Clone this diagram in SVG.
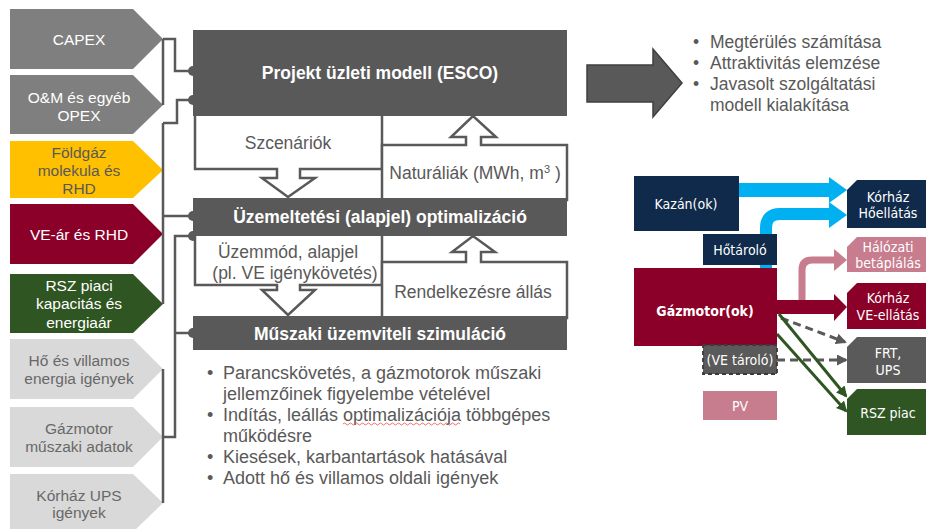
<svg xmlns="http://www.w3.org/2000/svg" width="926" height="529" viewBox="0 0 926 529">
<defs>
<style>
.chev-t{font-family:"Liberation Sans",Arial,sans-serif;font-size:15.5px;text-anchor:middle}
.w{fill:#ffffff}
.g{fill:#595959}
.lg{fill:#686868}
.conn{fill:none;stroke:#595959;stroke-width:2.5}
.dot{fill:#595959}
.box{fill:#595959}
.title{font-family:"Liberation Sans",Arial,sans-serif;font-size:17.5px;font-weight:bold;fill:#ffffff;text-anchor:middle}
.call{fill:#ffffff;stroke:#595959;stroke-width:2.5;stroke-linejoin:miter}
.ct{font-family:"Liberation Sans",Arial,sans-serif;font-size:17.5px;fill:#595959;text-anchor:middle}
.bt{font-family:"Liberation Sans",Arial,sans-serif;font-size:18px;fill:#595959}
.rt{font-family:"Liberation Sans",Arial,sans-serif;font-size:17.5px;fill:#595959}
.rd{font-family:"DejaVu Sans Condensed","DejaVu Sans",sans-serif;font-size:14px;fill:#ffffff;text-anchor:middle}
</style>
<marker id="ahGray" markerWidth="11" markerHeight="11" refX="9" refY="5.5" orient="auto" markerUnits="userSpaceOnUse"><path d="M0,0 L11,5.5 L0,11 Z" fill="#595959"/></marker>
<marker id="ahGreen" markerWidth="11" markerHeight="11" refX="9" refY="5.5" orient="auto" markerUnits="userSpaceOnUse"><path d="M0,0 L11,5.5 L0,11 Z" fill="#2F5522"/></marker>
</defs>
<rect width="926" height="529" fill="#ffffff"/>

<!-- Left input chevrons -->
<g id="capex"><path d="M10,9 H133 L163,39 L133,69 H10 Z" fill="#7F7F7F"/><text class="chev-t w" x="79" y="44.5">CAPEX</text></g>
<g id="om-opex"><path d="M10,75 H133 L163,105 L133,134 H10 Z" fill="#7F7F7F"/><text class="chev-t w" x="79" y="102.5">O&amp;M és egyéb</text><text class="chev-t w" x="79" y="120.5">OPEX</text></g>
<g id="foldgaz"><path d="M10,141 H133 L163,170 L133,198 H10 Z" fill="#FFC000"/><text class="chev-t g" x="79" y="157.5">Földgáz</text><text class="chev-t g" x="79" y="175.5">molekula és</text><text class="chev-t g" x="79" y="193.5">RHD</text></g>
<g id="ve-ar"><path d="M10,204 H133 L163,234 L133,264 H10 Z" fill="#8B0028"/><text class="chev-t w" x="79" y="240">VE-ár és RHD</text></g>
<g id="rsz-piaci"><path d="M10,274 H133 L163,304 L133,333 H10 Z" fill="#2F5522"/><text class="chev-t w" x="79" y="290.5">RSZ piaci</text><text class="chev-t w" x="79" y="309">kapacitás és</text><text class="chev-t w" x="79" y="327.5">energiaár</text></g>
<g id="ho-villamos"><path d="M10,339 H133 L163,369 L133,399 H10 Z" fill="#D9D9D9"/><text class="chev-t lg" x="79" y="365.5">Hő és villamos</text><text class="chev-t lg" x="79" y="383.5">energia igények</text></g>
<g id="gazmotor-adatok"><path d="M10,407 H133 L163,437 L133,467 H10 Z" fill="#D9D9D9"/><text class="chev-t lg" x="79" y="433.5">Gázmotor</text><text class="chev-t lg" x="79" y="451.5">műszaki adatok</text></g>
<g id="korhaz-ups"><path d="M10,474 H133 L163,503 L133,532 H10 Z" fill="#D9D9D9"/><text class="chev-t lg" x="79" y="500.5">Kórház UPS</text><text class="chev-t lg" x="79" y="518">igények</text></g>

<!-- Left connectors -->
<g id="connectors-left">
<path class="conn" d="M163,39 V105 M163,39 H175 V71 H192"/>
<path class="conn" d="M163,123 V304 M163,123 H177 V100 H192 M163,216 H192"/>
<path class="conn" d="M163,369 V503 M163,437 H175 V236 H192 M175,333 H192"/>
<circle class="dot" cx="193" cy="71" r="5"/>
<circle class="dot" cx="193" cy="100" r="5"/>
<circle class="dot" cx="193" cy="216" r="5"/>
<circle class="dot" cx="193" cy="236" r="5"/>
<circle class="dot" cx="193" cy="333" r="5"/>
</g>

<!-- Callout block arrows -->
<g id="connectors-callouts">
<g id="szcenariok"><polygon class="call" points="195,114 195,169 277,169 277,178 262,178 288,197 315,178 300,178 300,169 382,169 382,114"/><text class="ct" x="288" y="149">Szcenáriók</text></g>
<g id="naturaliak"><polygon class="call" points="382,200 382,145 466,145 466,137 451,137 473,116 496,137 481,137 481,145 567,145 567,200"/><text class="ct" x="475" y="179">Naturáliák (MWh, m<tspan font-size="11" dy="-6">3</tspan><tspan dy="6"> )</tspan></text></g>
<g id="uzemmod"><polygon class="call" points="195,234 195,285 277,285 277,290 262,290 288,315 315,290 300,290 300,285 382,285 382,234"/><text class="ct" x="288" y="258">Üzemmód, alapjel</text><text class="ct" x="295" y="279">(pl. VE igénykövetés)</text></g>
<g id="rendelkezes"><polygon class="call" points="382,318 382,262 466,262 466,252 452,252 473,236 495,252 481,252 481,262 567,262 567,318"/><text class="ct" x="473" y="298">Rendelkezésre állás</text></g>
</g>

<!-- Central process boxes -->
<g id="projekt"><rect class="box" x="193" y="30" width="374" height="86"/><text class="title" x="380" y="79">Projekt üzleti modell (ESCO)</text></g>
<g id="uzemeltetesi"><rect class="box" x="193" y="198" width="374" height="38"/><text class="title" x="380" y="223">Üzemeltetési (alapjel) optimalizáció</text></g>
<g id="muszaki"><rect class="box" x="193" y="316" width="374" height="34"/><text class="title" x="380" y="340">Műszaki üzemviteli szimuláció</text></g>

<!-- Bullets under simulation -->
<g id="sim-bullets">
<text class="bt" x="207" y="379">•</text><text class="bt" x="223" y="379">Parancskövetés, a gázmotorok műszaki</text>
<text class="bt" x="223" y="400">jellemzőinek figyelembe vételével</text>
<text class="bt" x="207" y="421">•</text><text class="bt" x="223" y="421">Indítás, leállás optimalizációja többgépes</text>
<path d="M343,424 q1.5,-2 3,0 t3,0 t3,0 t3,0 t3,0 t3,0 t3,0 t3,0 t3,0 t3,0 t3,0 t3,0 t3,0 t3,0 t3,0 t3,0 t3,0 t3,0 t3,0 t3,0 t3,0 t3,0 t3,0 t3,0 t3,0 t3,0 t3,0 t3,0 t3,0 t3,0 t3,0 t3,0 t3,0 t3,0 t3,0 t3,0 t3,0 t3,0 t3,0" fill="none" stroke="#E0504A" stroke-width="0.8"/>
<text class="bt" x="223" y="442">működésre</text>
<text class="bt" x="207" y="463">•</text><text class="bt" x="223" y="463">Kiesések, karbantartások hatásával</text>
<text class="bt" x="207" y="484">•</text><text class="bt" x="223" y="484">Adott hő és villamos oldali igények</text>
</g>

<!-- Big arrow and outcomes -->
<g id="result-arrow"><polygon points="587,65 653,65 653,49 682,83 653,117 653,102 587,102" fill="#595959" stroke="#3F3F3F" stroke-width="1.5"/></g>
<g id="outcomes">
<text class="rt" x="693" y="48">•</text><text class="rt" x="710" y="48">Megtérülés számítása</text>
<text class="rt" x="693" y="69">•</text><text class="rt" x="710" y="69">Attraktivitás elemzése</text>
<text class="rt" x="693" y="90">•</text><text class="rt" x="710" y="90">Javasolt szolgáltatási</text>
<text class="rt" x="710" y="111">modell kialakítása</text>
</g>

<!-- Right energy flow diagram connectors -->
<g id="connectors-energy">
<rect x="739" y="183" width="91" height="14" fill="#00B0F0"/>
<polygon points="829,177 847,190 829,203" fill="#00B0F0"/>
<path d="M766,268 V228 Q766,214 780,214 H832" fill="none" stroke="#00B0F0" stroke-width="12"/>
<polygon points="829,202 847,215 829,228" fill="#00B0F0"/>
<path d="M802,301 V270 Q802,260 812,260 H836" fill="none" stroke="#C77D8E" stroke-width="7"/>
<polygon points="834,249 847,260 834,271" fill="#C77D8E"/>
<rect x="777" y="300" width="58" height="14" fill="#8B0028"/>
<polygon points="834,294 847,307 834,321" fill="#8B0028"/>
<line x1="781" y1="318" x2="845" y2="342" stroke="#595959" stroke-width="3" stroke-dasharray="8,5" marker-end="url(#ahGray)"/>
<line x1="777" y1="360" x2="846" y2="360" stroke="#595959" stroke-width="3" stroke-dasharray="8,5" marker-end="url(#ahGray)"/>
<line x1="779" y1="314" x2="846" y2="396" stroke="#2F5522" stroke-width="3" marker-end="url(#ahGreen)"/>
<line x1="777" y1="334" x2="846" y2="411" stroke="#2F5522" stroke-width="3" marker-end="url(#ahGreen)"/>
</g>

<!-- Right energy flow diagram nodes -->
<g id="kazan"><rect x="634" y="176" width="105" height="55" fill="#0F2A4A"/><text class="rd" x="686" y="209">Kazán(ok)</text></g>
<g id="hotarolo"><rect x="703" y="234" width="74" height="31" fill="#0F2A4A"/><text class="rd" x="740" y="255">Hőtároló</text></g>
<g id="gazmotorok"><rect x="634" y="268" width="143" height="78" fill="#8B0028"/><text class="rd" x="705" y="316" font-weight="bold" font-size="17.5">Gázmotor(ok)</text></g>
<g id="ve-tarolo"><rect x="703" y="345" width="74" height="29" fill="#5A5A5A" stroke="#3A3A3A" stroke-width="1.8" stroke-dasharray="4,3"/><text class="rd" x="740" y="365">(VE tároló)</text></g>
<g id="pv"><rect x="703" y="391" width="74" height="29" fill="#C77D8E"/><text class="rd" x="740" y="411">PV</text></g>
<g id="korhaz-hoellatas"><path d="M857,180 H926 V228 H847 V190 Z" fill="#0F2A4A"/><text class="rd" x="888" y="202">Kórház</text><text class="rd" x="888" y="218">Hőellátás</text></g>
<g id="halozati"><path d="M857,237 H926 V272 H847 V247 Z" fill="#C77D8E"/><text class="rd" x="888" y="252">Hálózati</text><text class="rd" x="888" y="268">betáplálás</text></g>
<g id="korhaz-ve"><path d="M857,283 H926 V329 H847 V293 Z" fill="#8B0028"/><text class="rd" x="888" y="303">Kórház</text><text class="rd" x="888" y="320">VE-ellátás</text></g>
<g id="frt-ups"><path d="M857,337 H926 V383 H847 V347 Z" fill="#5A5A5A"/><text class="rd" x="888" y="358">FRT,</text><text class="rd" x="888" y="375">UPS</text></g>
<g id="rsz-piac"><path d="M857,389 H926 V435 H847 V399 Z" fill="#2F5522"/><text class="rd" x="888" y="418">RSZ piac</text></g>
</svg>
